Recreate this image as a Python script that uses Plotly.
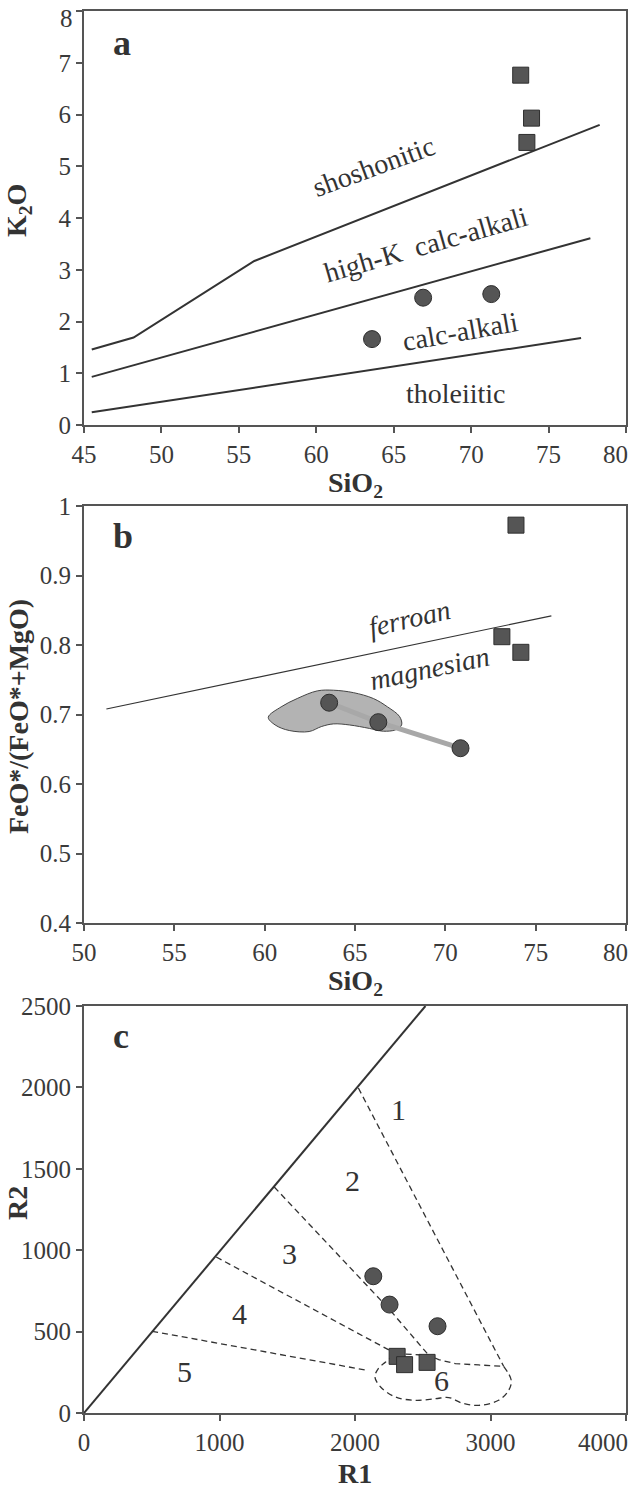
import plotly.graph_objects as go

# ---------------- Panel a data (SiO2 vs K2O) ----------------
a_shosh_x = [45.5, 48.2, 56.0, 78.3]
a_shosh_y = [1.46, 1.69, 3.17, 5.80]
a_highk_x = [45.5, 77.7]
a_highk_y = [0.93, 3.61]
a_calc_x = [45.5, 77.1]
a_calc_y = [0.245, 1.68]
a_circ_x = [63.6, 66.9, 71.3]
a_circ_y = [1.66, 2.46, 2.53]
a_sq_x = [73.2, 73.9, 73.6]
a_sq_y = [6.76, 5.93, 5.46]
a_labels = ["shoshonitic", "high-K  calc-alkali", "calc-alkali", "tholeiitic"]
a_lab_x = [63.7, 67.1, 69.3, 69.0]
a_lab_y = [4.99, 3.48, 1.80, 0.61]
a_lab_ang = [-20, -16, -10, 0]
a_xtickvals = [45, 50, 55, 60, 65, 70, 75, 80]
a_xticktext = ["45", "50", "55", "60", "65", "70", "75", ""]
a_last_tick = "80"
a_ytickvals = [0, 1, 2, 3, 4, 5, 6, 7, 8]
a_yticktext = ["0", "1", "2", "3", "4", "5", "6", "7", ""]
a_top_tick = "8"

# ---------------- Panel b data (SiO2 vs FeO*/(FeO*+MgO)) ----------------
b_line_x = [51.24, 75.87]
b_line_y = [0.708, 0.842]
b_field_x = [60.20, 60.91, 61.80, 62.91, 63.80, 64.91, 66.02, 66.80, 67.47, 67.58,
             67.24, 66.57, 65.80, 64.69, 63.80, 63.13, 62.46, 61.36, 60.58, 60.20]
b_field_y = [0.696, 0.711, 0.723, 0.734, 0.735, 0.7315, 0.723, 0.711, 0.697, 0.685,
             0.678, 0.676, 0.680, 0.685, 0.6865, 0.6826, 0.6755, 0.677, 0.685, 0.696]
b_circ_x = [63.57, 66.29, 70.84]
b_circ_y = [0.717, 0.689, 0.6515]
b_sq_x = [73.91, 73.13, 74.18]
b_sq_y = [0.9725, 0.812, 0.7895]
b_labels = ["ferroan", "magnesian"]
b_lab_x = [68.0, 69.1]
b_lab_y = [0.838, 0.7665]
b_lab_ang = [-13, -12]
b_xtickvals = [50, 55, 60, 65, 70, 75, 80]
b_xticktext = ["50", "55", "60", "65", "70", "75", ""]
b_last_tick = "80"
b_ytickvals = [0.4, 0.5, 0.6, 0.7, 0.8, 0.9, 1.0]
b_yticktext = ["0.4", "0.5", "0.6", "0.7", "0.8", "0.9", "1"]

# ---------------- Panel c data (R1 vs R2) ----------------
c_main_x = [0, 2520]
c_main_y = [0, 2500]
c_b12_x = [2025, 3097]
c_b12_y = [1996, 287]
c_b23_x = [1404, 2250, 2545]
c_b23_y = [1388, 640, 354]
c_b34_x = [976, 2300]
c_b34_y = [958, 365]
c_b45_x = [503, 2091]
c_b45_y = [502, 262]
c_top6_x = [2300, 2545, 2618, 2741, 2913, 3097]
c_top6_y = [365, 354, 328, 303, 295, 287]
c_f6_x = [3097, 3153, 3134, 3060, 2913, 2790, 2692, 2594, 2447, 2300, 2189, 2147, 2172, 2226, 2300]
c_f6_y = [287, 201, 139, 78, 47, 61, 95, 88, 78, 98, 160, 221, 273, 313, 365]
c_circ_x = [2135, 2255, 2609]
c_circ_y = [840, 666, 533]
c_sq_x = [2311, 2366, 2532]
c_sq_y = [348, 297, 311]
c_labels = ["1", "2", "3", "4", "5", "6"]
c_lab_x = [2321, 1981, 1514, 1147, 745, 2640]
c_lab_y = [1864, 1429, 979, 610, 252, 200]
c_xtickvals = [0, 1000, 2000, 3000, 4000]
c_xticktext = ["0", "1000", "2000", "3000", ""]
c_last_tick = "4000"

SERIF = "Liberation Serif"
DARK = "#333333"
MARK = "#555555"
TICKCOL = "#3a3a3a"

fig = go.Figure()


def line(x, y, ax, width=2, dash=None, color=DARK, shape="linear"):
    fig.add_trace(go.Scatter(x=x, y=y, mode="lines", xaxis=ax[0], yaxis=ax[1],
                             line=dict(color=color, width=width, dash=dash, shape=shape),
                             showlegend=False, hoverinfo="skip"))


def markers(x, y, ax, symbol, size):
    fig.add_trace(go.Scatter(x=x, y=y, mode="markers", xaxis=ax[0], yaxis=ax[1],
                             marker=dict(symbol=symbol, size=size, color=MARK,
                                         line=dict(color="#2e2e2e", width=1)),
                             showlegend=False, hoverinfo="skip", cliponaxis=False))


A = ("x", "y")
B = ("x2", "y2")
C = ("x3", "y3")

# Panel a
line(a_shosh_x, a_shosh_y, A)
line(a_highk_x, a_highk_y, A)
line(a_calc_x, a_calc_y, A)
markers(a_circ_x, a_circ_y, A, "circle", 17)
markers(a_sq_x, a_sq_y, A, "square", 16)

# Panel b
line(b_line_x, b_line_y, B, width=1.2)
fig.add_trace(go.Scatter(x=b_field_x, y=b_field_y, mode="lines", xaxis="x2", yaxis="y2",
                         fill="toself", fillcolor="#b3b3b3",
                         line=dict(color="#444444", width=1, shape="spline"),
                         showlegend=False, hoverinfo="skip"))
line(b_circ_x, b_circ_y, B, width=5, color="#a8a8a8")
markers(b_circ_x, b_circ_y, B, "circle", 17)
markers(b_sq_x, b_sq_y, B, "square", 16)

# Panel c
line(c_main_x, c_main_y, C, width=2)
DASH = "6px,4px"
line(c_b12_x, c_b12_y, C, width=1.3, dash=DASH)
line(c_b23_x, c_b23_y, C, width=1.3, dash=DASH)
line(c_b34_x, c_b34_y, C, width=1.3, dash=DASH)
line(c_b45_x, c_b45_y, C, width=1.3, dash=DASH)
line(c_top6_x, c_top6_y, C, width=1.3, dash=DASH)
line(c_f6_x, c_f6_y, C, width=1.3, dash=DASH, shape="spline")
markers(c_circ_x, c_circ_y, C, "circle", 17)
markers(c_sq_x, c_sq_y, C, "square", 16)

ann = []
lab_font = dict(family=SERIF, size=28, color=DARK)
for t, x, y, a in zip(a_labels, a_lab_x, a_lab_y, a_lab_ang):
    ann.append(dict(text=t, x=x, y=y, xref="x", yref="y", showarrow=False,
                    textangle=a, font=lab_font))
for t, x, y, a in zip(b_labels, b_lab_x, b_lab_y, b_lab_ang):
    ann.append(dict(text="<i>" + t + "</i>", x=x, y=y, xref="x2", yref="y2", showarrow=False,
                    textangle=a, font=lab_font))
for t, x, y in zip(c_labels, c_lab_x, c_lab_y):
    ann.append(dict(text=t, x=x, y=y, xref="x3", yref="y3", showarrow=False,
                    font=dict(family=SERIF, size=30, color=DARK)))

# panel letters
letter_font = dict(family=SERIF, size=36, color=DARK)
for t, xr, yr, yy in [("a", "x", "y", 0.975), ("b", "x2", "y2", 0.982), ("c", "x3", "y3", 0.98)]:
    ann.append(dict(text="<b>" + t + "</b>", x=0.05, y=yy, xref=xr + " domain",
                    yref=yr + " domain", showarrow=False, font=letter_font))

# end tick labels nudged inside the page, as in the original
tick_font = dict(family=SERIF, size=25, color=TICKCOL)
for t, y in [(a_last_tick, 0.6836), (b_last_tick, 0.3284), (c_last_tick, -0.0211)]:
    ann.append(dict(text=t, x=1.008, y=y, xref="paper", yref="paper", showarrow=False,
                    xanchor="right", yanchor="middle", font=tick_font))
ann.append(dict(text=a_top_tick, x=-0.0157, y=0.995, xref="paper", yref="paper", showarrow=False,
                xanchor="right", yanchor="middle", font=tick_font))

# axis titles
title_font = dict(family=SERIF, size=28, color=DARK)
for t, y in [("<b>SiO<sub>2</sub></b>", 0.6626), ("<b>SiO<sub>2</sub></b>", 0.3074), ("<b>R1</b>", -0.0435)]:
    ann.append(dict(text=t, x=0.5, y=y, xref="paper", yref="paper", showarrow=False,
                    xanchor="center", yanchor="middle", font=title_font))
for t, y in [("<b>K<sub>2</sub>O</b>", 0.858), ("<b>FeO*/(FeO*+MgO)</b>", 0.4971), ("<b>R2</b>", 0.1498)]:
    ann.append(dict(text=t, x=-0.1218, y=y, xref="paper", yref="paper", showarrow=False,
                    xanchor="center", yanchor="middle", textangle=-90, font=title_font))

axis_common = dict(showline=True, linecolor="#555555", linewidth=2, mirror=True,
                   ticks="outside", ticklen=6, tickwidth=1.5, tickcolor="#555555",
                   showgrid=False, zeroline=False, automargin=False,
                   ticklabeloverflow="allow", tickfont=tick_font)

fig.update_layout(
    width=633, height=1490,
    margin=dict(l=84, r=7, t=11, b=77, autoexpand=False),
    paper_bgcolor="white", plot_bgcolor="white",
    showlegend=False,
    annotations=ann,
    xaxis=dict(domain=[0, 1], anchor="y", range=[45, 80], tickmode="array",
               tickvals=a_xtickvals, ticktext=a_xticktext, **axis_common),
    yaxis=dict(domain=[0.7047, 1], anchor="x", range=[0, 8], tickmode="array",
               tickvals=a_ytickvals, ticktext=a_yticktext, **axis_common),
    xaxis2=dict(domain=[0, 1], anchor="y2", range=[50, 80], tickmode="array",
                tickvals=b_xtickvals, ticktext=b_xticktext, **axis_common),
    yaxis2=dict(domain=[0.3495, 0.6469], anchor="x2", range=[0.4, 1.0], tickmode="array",
                tickvals=b_ytickvals, ticktext=b_yticktext, **axis_common),
    xaxis3=dict(domain=[0, 1], anchor="y3", range=[0, 4000], tickmode="array",
                tickvals=c_xtickvals, ticktext=c_xticktext, **axis_common),
    yaxis3=dict(domain=[0, 0.2903], anchor="x3", range=[0, 2500], dtick=500, tick0=0, **axis_common),
)

fig.write_html("out.html")
